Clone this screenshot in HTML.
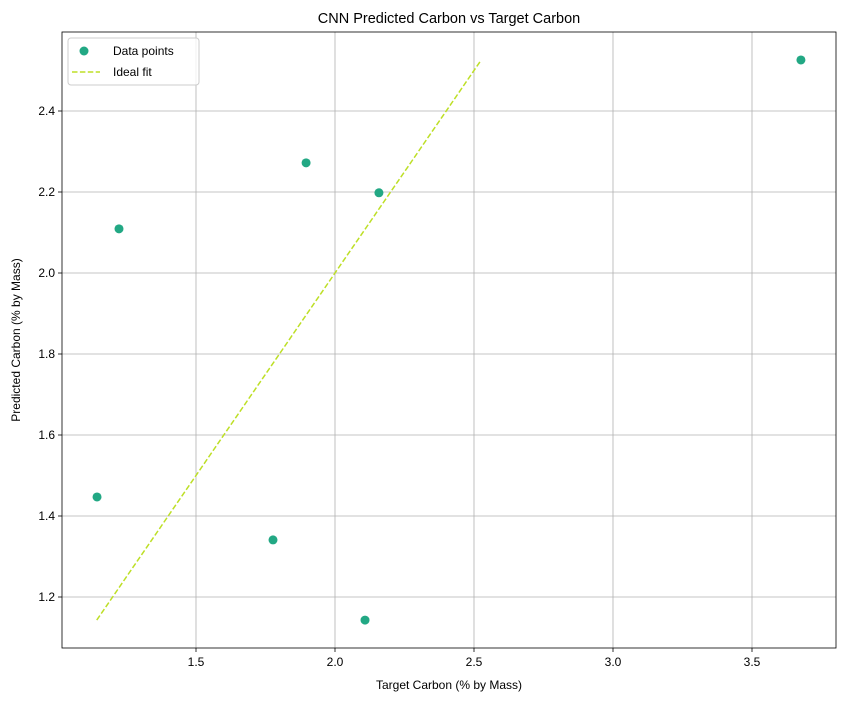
<!DOCTYPE html>
<html><head><meta charset="utf-8"><style>
body{margin:0;background:#fff;font-family:"Liberation Sans",sans-serif}
</style></head><body>
<svg width="846" height="701" xmlns="http://www.w3.org/2000/svg" font-family="Liberation Sans, sans-serif">
<g id="g"></g>
</svg>
<script>
const targetVals=[1.144,1.223,1.777,1.896,2.158,2.108,3.676];
const predVals=[1.447,2.109,1.341,2.272,2.198,1.143,2.526];
const xTicks=[1.5,2.0,2.5,3.0,3.5];
const yTicks=[1.2,1.4,1.6,1.8,2.0,2.2,2.4];
const L=62,R=836,T=32,B=648;
const X=v=>57+(v-1)*278;
const Y=v=>597-(v-1.2)*405;
const g=document.getElementById('g');
const NS='http://www.w3.org/2000/svg';
function mk(t,a,txt){const e=document.createElementNS(NS,t);for(const k in a)e.setAttribute(k,a[k]);if(txt!==undefined)e.textContent=txt;g.appendChild(e);return e;}
xTicks.forEach(v=>{const x=X(v);
let e=mk('line',{x1:x,x2:x,y1:T,y2:B,stroke:'#b0b0b0','stroke-width':0.8});
e=mk('line',{x1:x,x2:x,y1:B,y2:B+4,stroke:'#000','stroke-width':0.8});
e=mk('text',{x:x,y:B+18,'text-anchor':'middle','font-size':12},v.toFixed(1));});
yTicks.forEach(v=>{const y=Y(v);
let e=mk('line',{x1:L,x2:R,y1:y,y2:y,stroke:'#b0b0b0','stroke-width':0.8});
e=mk('line',{x1:L-4,x2:L,y1:y,y2:y,stroke:'#000','stroke-width':0.8});
e=mk('text',{x:L-7,y:y+4,'text-anchor':'end','font-size':12},v.toFixed(1));});
const mn=Math.min(...predVals),mx=Math.max(...predVals);
let ln=mk('line',{x1:X(mn),y1:Y(mn),x2:X(mx),y2:Y(mx),stroke:'#bddf26','stroke-width':1.5,'stroke-dasharray':'5.5,2.4'});

targetVals.forEach((t,i)=>{const c=mk('circle',{cx:X(t),cy:Y(predVals[i]),r:4.5,fill:'#22a884'});
});
let f=mk('rect',{x:L,y:T,width:R-L,height:B-T,fill:'none',stroke:'#000','stroke-width':0.8});
let t=mk('text',{x:(L+R)/2,y:23,'text-anchor':'middle','font-size':14.5},'CNN Predicted Carbon vs Target Carbon');
t=mk('text',{x:(L+R)/2,y:689,'text-anchor':'middle','font-size':12},'Target Carbon (% by Mass)');
t=mk('text',{x:0,y:0,'text-anchor':'middle','font-size':12,transform:'translate(20,340) rotate(-90)'},'Predicted Carbon (% by Mass)');
let lg=mk('rect',{x:68,y:38,width:131,height:47,rx:3,fill:'#fff','fill-opacity':0.8,stroke:'#ccc'});
let e=mk('circle',{cx:84,cy:51,r:4.5,fill:'#22a884'});
e=mk('text',{x:113,y:55,'font-size':12},'Data points');
e=mk('line',{x1:72,x2:100,y1:72,y2:72,stroke:'#bddf26','stroke-width':1.5,'stroke-dasharray':'5.5,2.4'});
e=mk('text',{x:113,y:76,'font-size':12},'Ideal fit');
</script>
</body></html>
